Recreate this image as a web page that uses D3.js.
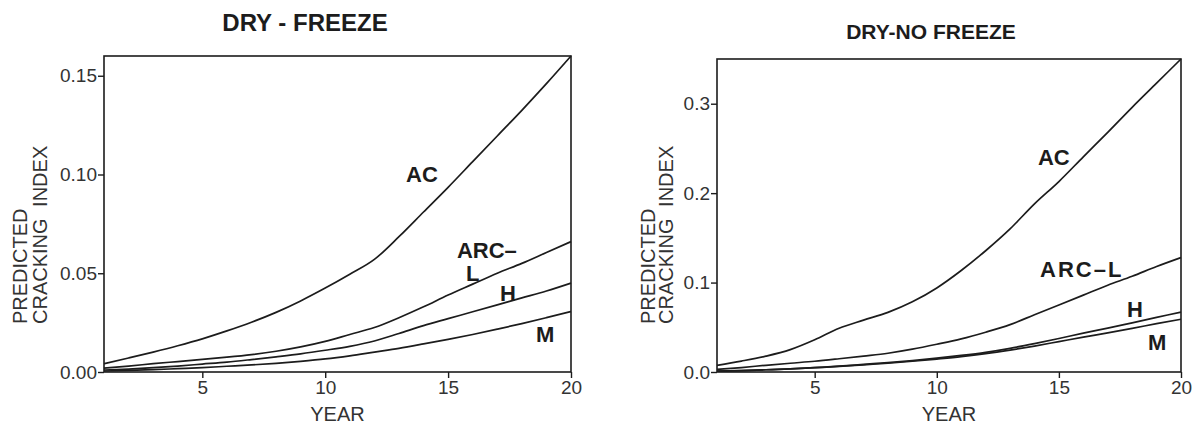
<!DOCTYPE html>
<html>
<head>
<meta charset="utf-8">
<script src="https://cdn.jsdelivr.net/npm/d3@7"></script>
<style>
  html, body { margin: 0; padding: 0; background: #fff; }
  svg { display: block; font-family: "Liberation Sans", Arial, Helvetica, sans-serif; }
</style>
</head>
<body>
<div id="chart"></div>
<script>
// DATA
const years = d3.range(1, 21);

// dry - freeze
const freezeAC   = [0.0042, 0.0071, 0.0101, 0.0133, 0.0168, 0.0208, 0.0252, 0.0302, 0.0360, 0.0425, 0.0495, 0.0570, 0.0685, 0.0810, 0.0935, 0.1065, 0.1195, 0.1325, 0.1460, 0.1600];
const freezeARCL = [0.0020, 0.0030, 0.0042, 0.0053, 0.0064, 0.0075, 0.0088, 0.0105, 0.0127, 0.0155, 0.0190, 0.0225, 0.0275, 0.0330, 0.0390, 0.0445, 0.0500, 0.0550, 0.0605, 0.0660];
const freezeH    = [0.0010, 0.0015, 0.0022, 0.0030, 0.0040, 0.0050, 0.0063, 0.0077, 0.0092, 0.0110, 0.0130, 0.0157, 0.0195, 0.0235, 0.0270, 0.0305, 0.0340, 0.0375, 0.0410, 0.0450];
const freezeM    = [0.0005, 0.0008, 0.0012, 0.0017, 0.0022, 0.0029, 0.0036, 0.0044, 0.0054, 0.0066, 0.0082, 0.0101, 0.0120, 0.0142, 0.0165, 0.0190, 0.0217, 0.0245, 0.0275, 0.0306];

// dry - no freeze
const noFreezeAC   = [0.0074, 0.0122, 0.0177, 0.0250, 0.0360, 0.0490, 0.0580, 0.0667, 0.0785, 0.0940, 0.1135, 0.1356, 0.1600, 0.1880, 0.2130, 0.2406, 0.2680, 0.2960, 0.3230, 0.3500];
const noFreezeARCL = [0.0030, 0.0050, 0.0075, 0.0098, 0.0120, 0.0148, 0.0178, 0.0210, 0.0255, 0.0310, 0.0370, 0.0445, 0.0530, 0.0640, 0.0750, 0.0860, 0.0970, 0.1070, 0.1180, 0.1280];
const noFreezeH    = [0.0010, 0.0015, 0.0025, 0.0035, 0.0050, 0.0065, 0.0085, 0.0105, 0.0128, 0.0155, 0.0185, 0.0220, 0.0265, 0.0318, 0.0375, 0.0435, 0.0490, 0.0550, 0.0610, 0.0670];
const noFreezeM    = [0.0010, 0.0015, 0.0025, 0.0035, 0.0048, 0.0062, 0.0080, 0.0098, 0.0120, 0.0145, 0.0172, 0.0205, 0.0245, 0.0290, 0.0340, 0.0390, 0.0438, 0.0488, 0.0540, 0.0590];

const xTicks = [5, 10, 15, 20];
const freezeYTicks = [0, 0.05, 0.10, 0.15];
const noFreezeYTicks = [0, 0.1, 0.2, 0.3];

// curve labels, placed in data units [year, value]
const freezeLabels = [
  { text: "AC",   at: [13.29, 0.0962] },
  { text: "ARC–", at: [15.36, 0.0577] },
  { text: "L",    at: [15.73, 0.0461] },
  { text: "H",    at: [17.11, 0.0359] },
  { text: "M",    at: [18.58, 0.0152] }
];
const noFreezeLabels = [
  { text: "AC",    at: [14.14, 0.2315] },
  { text: "ARC–L", at: [14.23, 0.1062] },
  { text: "H",     at: [17.79, 0.0615] },
  { text: "M",     at: [18.65, 0.0246] }
];

//LAYOUT
const width = 1196, height = 428;
const INK = "#1c1c1c";

const svg = d3.select("#chart").append("svg")
  .attr("width", width)
  .attr("height", height);

const panels = [
  {
    title: "DRY - FREEZE", titleX: 305, titleY: 31, titleSize: 24,
    xRange: [104, 571], yRange: [372, 56], yMax: 0.16,
    yTicks: freezeYTicks, yFormat: ".2f",
    series: [freezeAC, freezeARCL, freezeH, freezeM],
    labels: freezeLabels,
    ylab1: 27, ylab2: 47
  },
  {
    title: "DRY-NO FREEZE", titleX: 931, titleY: 39, titleSize: 21,
    xRange: [717, 1181], yRange: [372, 59], yMax: 0.35,
    yTicks: noFreezeYTicks, yFormat: ".1f",
    series: [noFreezeAC, noFreezeARCL, noFreezeH, noFreezeM],
    labels: noFreezeLabels,
    ylab1: 655, ylab2: 673
  }
];

panels.forEach(p => {
  const x = d3.scaleLinear().domain([1, 20]).range(p.xRange);
  const y = d3.scaleLinear().domain([0, p.yMax]).range(p.yRange);
  const g = svg.append("g");

  //TITLE
  g.append("text")
    .attr("x", p.titleX)
    .attr("y", p.titleY)
    .attr("text-anchor", "middle")
    .attr("font-size", p.titleSize + "px")
    .attr("font-weight", "bold")
    .attr("fill", INK)
    .text(p.title);

  //FRAME
  g.append("rect")
    .attr("x", p.xRange[0])
    .attr("y", p.yRange[1])
    .attr("width", p.xRange[1] - p.xRange[0])
    .attr("height", p.yRange[0] - p.yRange[1])
    .attr("fill", "none")
    .attr("stroke", INK)
    .attr("stroke-width", 1.6);

  //AXES
  const xAxis = g.append("g")
    .attr("transform", `translate(0,${p.yRange[0]})`)
    .call(d3.axisBottom(x).tickValues(xTicks).tickSize(6).tickSizeOuter(0).tickPadding(3));
  const yAxis = g.append("g")
    .attr("transform", `translate(${p.xRange[0]},0)`)
    .call(d3.axisLeft(y).tickValues(p.yTicks).tickFormat(d3.format(p.yFormat)).tickSize(6).tickSizeOuter(0).tickPadding(1));

  [xAxis, yAxis].forEach(a => {
    a.select(".domain").remove();
    a.selectAll("line").attr("stroke", INK).attr("stroke-width", 1.4);
    a.selectAll("text")
      .attr("font-size", "19px")
      .attr("font-family", "'Liberation Sans', Arial, sans-serif")
      .attr("fill", "#333");
  });

  g.append("text")
    .attr("x", (p.xRange[0] + p.xRange[1]) / 2)
    .attr("y", p.yRange[0] + 49)
    .attr("text-anchor", "middle")
    .attr("font-size", "20px")
    .attr("fill", "#333")
    .text("YEAR");

  const ylab = g.append("g").attr("fill", "#333").attr("font-size", "20px");
  ylab.append("text")
    .attr("transform", `translate(${p.ylab1},324) rotate(-90)`)
    .text("PREDICTED");
  ylab.append("text")
    .attr("transform", `translate(${p.ylab2},324) rotate(-90)`)
    .attr("word-spacing", "6px")
    .text("CRACKING INDEX");

  //LINES
  const line = d3.line()
    .x((d, i) => x(years[i]))
    .y(d => y(d))
    .curve(d3.curveMonotoneX);

  g.append("g")
    .selectAll("path")
    .data(p.series)
    .enter()
    .append("path")
    .attr("d", line)
    .attr("fill", "none")
    .attr("stroke", INK)
    .attr("stroke-width", 1.7);

  //LABELS
  g.append("g")
    .selectAll("text")
    .data(p.labels)
    .enter()
    .append("text")
    .attr("x", d => x(d.at[0]))
    .attr("y", d => y(d.at[1]))
    .attr("font-size", "22px")
    .attr("font-weight", "bold")
    .attr("fill", INK)
    .attr("letter-spacing", d => d.text === "ARC–L" ? "2px" : null)
    .text(d => d.text);
});
</script>
</body>
</html>
